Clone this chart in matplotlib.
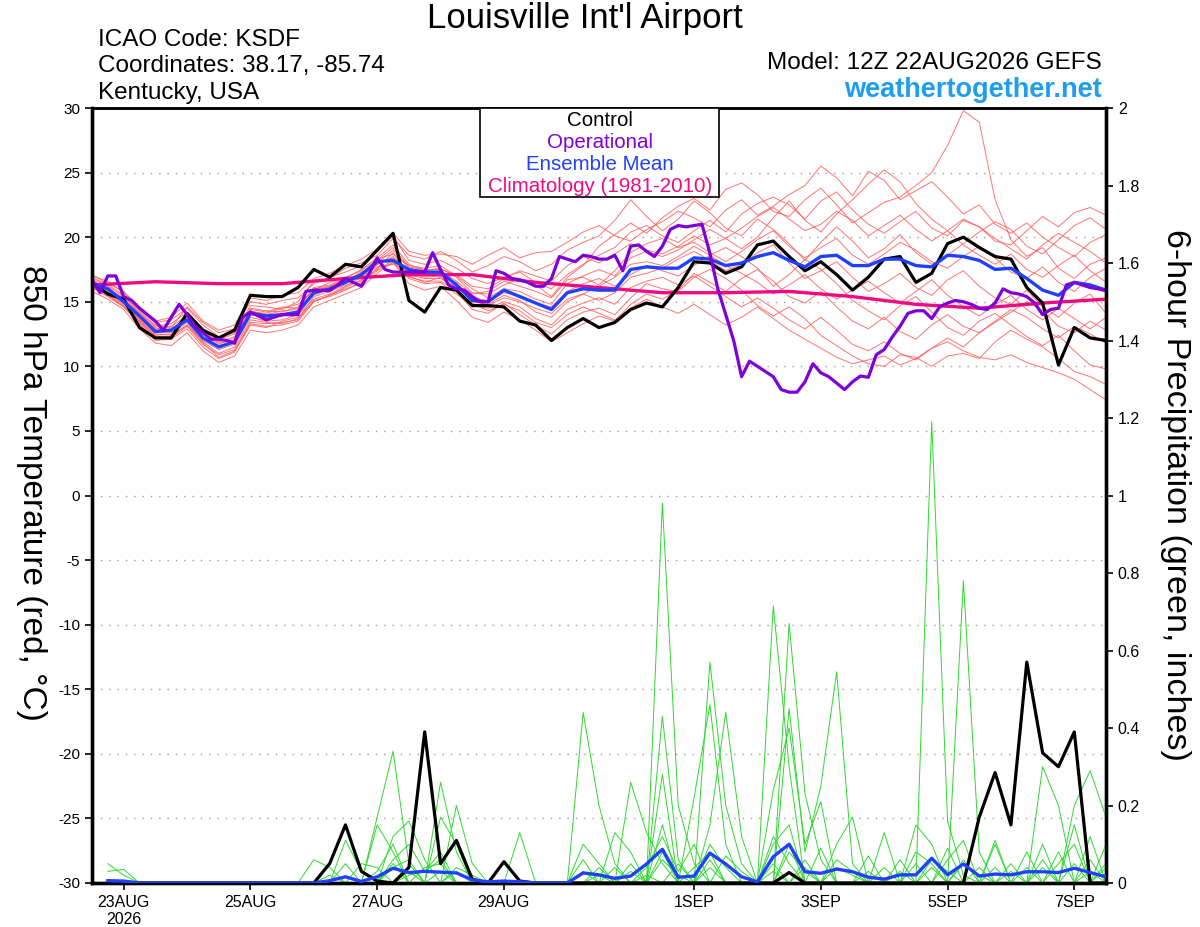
import numpy as np
import matplotlib
matplotlib.use("Agg")
import matplotlib.pyplot as plt
from matplotlib.patches import Rectangle

plt.rcParams["font.family"] = ["Liberation Sans", "DejaVu Sans"]
plt.rcParams["axes.unicode_minus"] = False

# ---- data ----
# 850 hPa temperature, 6-hourly from 22AUG 12Z
control_temp = [16.5, 15.6, 15.2, 13.0, 12.2, 12.2, 14.1, 12.8, 12.2, 12.8,
                15.5, 15.4, 15.4, 16.1, 17.5, 16.9, 17.9, 17.7, 19.0, 20.3,
                15.1, 14.2, 16.1, 15.9, 14.7, 14.7, 14.6, 13.5, 13.2, 12.0,
                13.0, 13.7, 13.0, 13.4, 14.4, 14.9, 14.6, 16.1, 18.1, 18.0,
                17.2, 17.7, 19.4, 19.7, 18.5, 17.4, 18.1, 17.1, 15.9, 16.9,
                18.3, 18.5, 16.5, 17.2, 19.5, 20.0, 19.2, 18.5, 18.3, 16.1,
                14.9, 10.1, 13.0, 12.2, 12.0]
mean_temp = [16.4, 16.0, 15.0, 13.9, 12.7, 12.8, 13.6, 12.2, 11.5, 11.9,
             14.1, 13.9, 14.0, 14.2, 15.7, 16.0, 16.5, 17.1, 18.1, 18.2,
             17.5, 17.3, 17.3, 16.3, 15.1, 15.0, 15.9, 15.4, 14.9, 14.4,
             15.7, 16.0, 15.9, 15.9, 17.5, 17.7, 17.6, 17.6, 18.4, 18.3,
             17.8, 18.0, 18.5, 18.8, 18.2, 17.7, 18.5, 18.6, 17.8, 17.8,
             18.3, 18.3, 17.8, 17.7, 18.6, 18.5, 18.2, 17.5, 17.6, 16.8,
             15.9, 15.5, 16.5, 16.3, 15.9]
# operational run, 3-hourly
oper_temp = [16.7, 15.7, 17.0, 17.0, 15.4, 15.1, 14.5, 14.0, 13.5, 12.8,
             13.8, 14.8, 14.0, 13.1, 12.6, 12.1, 12.1, 12.0, 11.8, 13.8,
             14.2, 13.9, 13.6, 13.8, 14.0, 14.0, 14.0, 15.8, 15.9, 15.9,
             15.85, 16.3, 16.8, 16.5, 16.2, 17.2, 18.4, 17.5, 17.3, 17.3,
             17.3, 17.3, 17.3, 18.8, 17.5, 16.3, 16.0, 15.9, 15.4, 15.0,
             15.0, 17.4, 17.2, 16.8, 16.7, 16.5, 16.2, 16.2, 16.8, 18.5,
             18.3, 18.1, 18.6, 18.5, 18.3, 18.3, 18.6, 17.4, 19.3, 19.4,
             18.9, 18.5, 19.3, 20.6, 20.9, 20.8, 20.9, 21.0, 18.75, 16.0,
             14.0, 12.0, 9.2, 10.4, 10.0, 9.6, 9.2, 8.2, 8.0, 8.0,
             8.8, 10.2, 9.5, 9.2, 8.7, 8.2, 8.8, 9.25, 9.15, 10.9,
             11.3, 12.25, 13.1, 14.1, 14.3, 14.3, 13.7, 14.6, 14.9, 15.1,
             15.0, 14.8, 14.5, 14.4, 14.9, 16.0, 15.7, 15.6, 15.4, 14.9,
             14.0, 14.4, 14.5, 16.3, 16.5, 16.3, 16.1, 16.0, 15.85]
# climatology, daily at 12Z
clim_temp = [16.3, 16.55, 16.4, 16.4, 16.8, 17.1, 17.1, 16.5, 16.1, 15.7,
             15.7, 15.8, 15.4, 14.8, 14.5, 14.9, 15.2]

# ensemble members (6-hourly)
ens_temp = [
    [16.8, 16.2, 15.4, 14.3, 13.2, 13.0, 14.6, 13.4, 12.6, 12.9, 15.0, 14.8, 15.1, 15.3, 16.4, 16.9, 17.3, 17.8, 18.9, 20.1, 18.2, 17.9,
     18.2, 17.6, 16.8, 16.4, 16.9, 17.3, 16.5, 16.0, 17.1, 17.9, 18.6, 19.2, 20.4, 20.9, 20.1, 19.6,
     20.5, 21.3, 20.4, 21.8, 22.6, 23.1, 22.5, 21.4, 22.8, 23.5, 22.1, 21.0, 20.3, 21.2, 22.0, 20.7, 20.1, 21.3, 20.8, 19.7, 19.4, 20.5, 21.6, 20.8, 21.9, 22.3, 21.7],
    [16.2, 15.5, 14.6, 13.3, 12.0, 12.1, 12.9, 11.5, 10.6, 11.1, 13.2, 13.0, 13.5, 13.8, 15.0, 15.5, 16.0, 16.4, 17.6, 18.8, 17.0, 16.5,
     16.9, 15.8, 14.4, 14.1, 14.9, 14.0, 13.2, 12.5, 13.6, 14.2, 14.5, 14.0, 15.3, 16.4, 16.0, 15.8,
     16.9, 17.5, 16.8, 15.9, 14.7, 13.9, 14.6, 13.7, 12.4, 11.6, 10.8, 10.2, 10.0, 10.9, 10.7, 10.0, 10.8, 11.0, 10.6, 11.9, 12.8, 12.1, 11.5, 10.6, 9.6, 9.2, 8.6],
    [16.5, 16.1, 15.2, 14.0, 12.9, 13.1, 13.9, 12.5, 11.9, 12.3, 14.4, 14.2, 14.6, 14.5, 16.1, 16.3, 16.8, 17.5, 18.4, 19.4, 17.9, 17.4,
     17.6, 16.9, 15.7, 15.6, 16.3, 16.8, 16.3, 15.4, 16.9, 17.8, 19.3, 20.2, 21.1, 20.3, 21.5, 22.4,
     23.0, 22.1, 23.7, 24.2, 23.3, 22.0, 21.6, 22.9, 23.8, 22.5, 21.1, 21.9, 22.7, 23.1, 24.0, 25.0, 27.1, 29.8, 28.9, 22.9, 19.8, 18.5, 19.2, 17.6, 16.8, 17.9, 18.4],
    [16.0, 15.8, 14.9, 13.6, 12.5, 12.4, 13.2, 12.0, 11.3, 11.7, 13.8, 13.5, 13.6, 14.0, 15.2, 15.6, 16.2, 16.9, 17.7, 17.9, 17.4, 17.0,
     17.1, 16.5, 15.2, 14.7, 15.3, 15.0, 14.5, 14.1, 15.2, 15.6, 15.1, 15.7, 16.9, 17.2, 17.6, 18.3,
     18.9, 18.2, 17.4, 17.9, 18.8, 19.4, 18.0, 16.8, 17.4, 18.1, 16.9, 15.8, 16.4, 17.2, 16.1, 15.5, 16.7, 17.4, 16.2, 15.3, 14.8, 15.9, 14.6, 13.8, 14.9, 15.6, 14.1],
    [17.0, 16.6, 15.7, 14.5, 13.4, 13.6, 14.5, 13.2, 12.3, 12.6, 14.7, 14.6, 14.4, 15.0, 16.6, 16.8, 17.6, 18.0, 18.6, 19.9, 18.6, 18.3,
     18.9, 18.2, 17.3, 17.8, 18.5, 18.1, 17.4, 17.9, 19.0, 19.6, 20.1, 21.3, 22.9, 21.6, 20.5, 21.4,
     22.8, 21.9, 20.7, 20.1, 21.4, 20.6, 19.5, 18.2, 19.6, 20.8, 19.7, 18.4, 19.1, 20.2, 18.8, 17.9, 18.6, 19.5, 20.4, 21.2, 20.6, 19.3, 18.7, 19.8, 20.9, 21.5, 20.6],
    [15.8, 15.2, 14.4, 12.9, 11.8, 11.6, 12.6, 11.2, 10.3, 10.8, 12.8, 12.6, 12.8, 13.2, 14.6, 15.1, 15.6, 16.1, 17.2, 18.1, 16.4, 15.9,
     16.2, 15.1, 13.8, 13.4, 14.2, 13.6, 12.8, 11.9, 12.6, 13.3, 13.9, 13.5, 14.8, 15.6, 15.2, 15.9,
     17.2, 16.5, 15.8, 16.8, 17.5, 16.6, 15.4, 14.9, 15.8, 14.6, 13.5, 12.9, 13.8, 12.7, 12.1, 13.2, 14.0, 13.1, 12.6, 13.5, 14.4, 13.8, 12.9, 12.2, 13.1, 12.5, 11.8],
    [16.6, 15.9, 15.1, 14.2, 13.0, 12.7, 14.0, 12.8, 11.8, 12.0, 14.2, 14.1, 14.5, 14.8, 15.9, 16.5, 16.9, 17.4, 18.3, 18.7, 17.8, 17.6,
     17.8, 17.0, 16.0, 15.3, 16.0, 15.8, 15.2, 14.8, 16.4, 17.0, 17.5, 17.0, 18.4, 18.9, 18.5, 19.0,
     19.8, 20.6, 19.9, 19.1, 20.0, 21.5, 22.8, 21.3, 20.4, 21.8, 22.9, 24.1, 25.2, 24.3, 22.6, 21.4, 20.5, 19.4, 18.6, 17.9, 18.7, 17.5, 16.9, 17.8, 18.6, 17.4, 16.5],
    [16.3, 15.6, 14.8, 13.5, 12.4, 12.5, 13.4, 11.9, 11.0, 11.5, 13.6, 13.4, 13.3, 13.7, 15.4, 15.8, 16.3, 16.6, 17.9, 18.4, 17.1, 16.8,
     16.8, 16.2, 15.4, 15.0, 15.7, 15.5, 14.9, 14.6, 15.8, 16.4, 16.8, 16.2, 17.1, 17.8, 17.4, 17.0,
     17.8, 18.6, 19.2, 18.5, 17.6, 16.2, 17.1, 18.3, 17.5, 16.4, 15.1, 14.3, 13.6, 14.7, 15.4, 14.2, 13.0, 12.4, 13.5, 14.1, 13.2, 12.3, 11.6, 12.4, 11.2, 10.1, 9.8],
    [16.9, 16.3, 15.5, 14.1, 13.1, 13.3, 14.2, 12.9, 12.1, 12.5, 14.5, 14.3, 14.2, 14.6, 16.0, 16.2, 16.6, 17.3, 18.0, 19.0, 17.6, 17.2,
     17.4, 16.6, 15.6, 15.8, 16.6, 16.2, 15.8, 15.3, 16.7, 16.9, 16.3, 17.4, 18.8, 19.5, 19.9, 19.2,
     19.6, 18.8, 18.1, 18.9, 19.8, 20.5, 19.3, 18.4, 19.2, 19.9, 18.6, 17.9, 18.7, 19.6, 19.0, 18.1, 17.6, 18.5, 19.3, 18.4, 17.3, 16.8, 17.7, 16.5, 15.8, 16.9, 17.6],
    [16.1, 15.4, 14.6, 13.4, 12.2, 12.2, 13.1, 11.7, 10.9, 11.3, 13.4, 13.3, 13.4, 13.6, 15.1, 15.4, 15.9, 16.5, 17.4, 18.0, 16.8, 16.4,
     16.5, 15.6, 14.7, 14.5, 15.0, 14.6, 13.7, 13.2, 14.4, 14.9, 15.3, 14.8, 16.1, 16.6, 16.9, 16.3,
     17.0, 16.2, 15.4, 14.6, 15.3, 14.5, 13.6, 12.9, 13.8, 12.8, 11.7, 11.2, 11.9, 11.0, 10.5, 11.4, 12.2, 11.5, 12.6, 13.4, 14.2, 15.0, 14.3, 13.1, 12.6, 13.5, 12.8],
    [17.1, 16.4, 15.8, 14.6, 13.5, 13.8, 14.9, 13.5, 12.8, 13.2, 15.3, 15.1, 15.5, 15.7, 16.8, 17.2, 17.8, 18.3, 19.1, 20.3, 18.9, 18.6,
     18.7, 18.5, 17.9, 18.6, 19.2, 18.4, 18.8, 18.9, 19.6, 20.4, 20.9, 20.1, 19.7, 20.6, 21.2, 22.0,
     21.5, 20.8, 22.1, 22.9, 21.7, 22.4, 23.3, 24.0, 25.5, 24.6, 23.2, 25.1, 24.4, 22.9, 23.6, 24.3, 23.1, 21.8, 22.5, 21.0, 20.3, 21.1, 20.0, 19.2, 18.5, 19.6, 20.2],
    [16.4, 15.7, 14.9, 13.7, 12.6, 12.6, 13.5, 12.3, 11.6, 11.9, 14.0, 13.8, 13.9, 14.2, 15.5, 16.0, 16.5, 17.0, 17.9, 18.5, 17.3, 16.9,
     17.0, 16.4, 15.0, 14.8, 15.5, 15.1, 14.2, 13.8, 15.0, 15.6, 16.2, 16.9, 17.9, 18.1, 17.8, 18.5,
     19.3, 18.6, 17.8, 17.2, 16.5, 15.6, 16.3, 17.1, 16.0, 15.2, 15.9, 16.6, 15.7, 14.9, 15.8, 16.7, 15.5, 14.6, 13.9, 14.8, 15.5, 14.4, 13.6, 14.5, 13.7, 12.9, 13.8],
    [16.2, 15.5, 14.7, 13.5, 12.3, 12.3, 13.2, 11.8, 10.7, 11.2, 13.3, 13.1, 13.2, 13.5, 15.0, 15.5, 16.1, 16.7, 17.5, 18.2, 16.9, 16.6,
     16.6, 15.9, 14.9, 14.3, 14.8, 14.3, 13.4, 13.0, 14.0, 14.6, 14.1, 13.6, 14.5, 15.2, 14.6, 14.1,
     14.8, 14.0, 13.2, 13.8, 14.6, 13.7, 12.8, 12.1, 11.4, 10.7, 10.2, 10.5, 10.8, 10.1, 10.6, 11.4, 11.9, 11.2, 10.7, 10.5, 10.9, 10.3, 9.9, 9.5, 9.0, 8.2, 7.4],
    [16.7, 16.0, 15.3, 14.0, 12.8, 12.9, 13.8, 12.6, 11.7, 12.2, 14.3, 14.0, 14.3, 14.4, 15.8, 16.2, 16.7, 17.2, 18.2, 19.2, 17.7, 17.5,
     17.5, 17.1, 16.2, 16.0, 16.8, 17.4, 17.0, 16.6, 17.8, 18.5, 18.0, 18.7, 19.5, 19.0, 18.7, 19.3,
     20.1, 19.4, 19.9, 20.7, 21.6, 22.3, 21.4, 20.5, 21.0, 22.0, 21.3, 20.1, 20.9, 21.7, 20.6, 19.7, 20.5, 21.4, 20.8, 19.9, 19.1, 18.3, 19.4, 20.3, 19.6, 18.9, 18.0],
]

# 6-hour precipitation (inches), first value valid 22AUG 18Z
control_prcp = [0, 0, 0, 0, 0, 0, 0, 0, 0, 0, 0, 0, 0, 0, .05, .15,
                .03, .005, 0, .04, .39, .05, .11, .01, 0, .055, .005, 0, 0, 0, 0, 0,
                0, 0, 0, 0, 0, 0, 0, 0, 0, 0, 0, .027, 0, 0, 0, 0,
                0, 0, 0, 0, 0, 0, 0, .17, .285, .15, .57, .336, .30, .39, 0, 0]
mean_prcp = [.006, .005, 0, 0, 0, 0, 0, 0, 0, 0, 0, 0, 0, 0, .006, .016,
             .004, .016, .038, .027, .03, .028, .026, .008, .003, .005, .003, 0, 0, 0, .026, .021,
             .012, .018, .049, .087, .015, .018, .077, .049, .016, .003, .068, .10, .029, .025, .036, .029,
             .015, .01, .021, .021, .064, .021, .049, .018, .023, .021, .029, .029, .027, .038, .027, .016]
ens_prcp = [
    [.05, .02, 0, 0, 0, 0, 0, 0, 0, 0, 0, 0, 0, 0, 0, 0,
     0, .17, .34, .05, 0, 0, 0, 0, 0, 0, 0, 0, 0, 0, .44, .2,
     .05, 0, 0, .98, .2, .05, 0, 0, 0, 0, .1, .15, 0, 0, 0, 0,
     0, 0, 0, 0, 1.19, .16, .02, 0, 0, 0, 0, .1, 0, 0, 0, 0],
    [.03, .035, 0, 0, 0, 0, 0, 0, 0, 0, 0, 0, 0, 0, 0, .11,
     .03, 0, 0, 0, 0, .26, .08, 0, 0, 0, 0, 0, 0, 0, 0, 0,
     0, .26, .13, .05, 0, 0, .57, .2, .05, 0, 0, .67, .23, .06, 0, 0,
     0, 0, 0, 0, 0, 0, .78, .08, 0, 0, 0, 0, 0, .2, .29, .17],
    [0, 0, 0, 0, 0, 0, 0, 0, 0, 0, 0, 0, 0, .06, .04, 0,
     0, 0, .12, .16, .06, 0, .2, .05, 0, 0, 0, 0, 0, 0, .1, .05,
     0, 0, 0, .43, .06, 0, .15, .44, .12, 0, .715, .3, 0, 0, .1, .17,
     0, 0, 0, 0, 0, 0, 0, 0, .11, 0, 0, .3, .2, 0, 0, 0],
    [0, 0, 0, 0, 0, 0, 0, 0, 0, 0, 0, 0, 0, 0, 0, 0,
     0, .15, .08, 0, 0, .17, .1, 0, 0, 0, .13, 0, 0, 0, 0, 0,
     .13, .08, 0, .28, 0, .22, .46, .1, 0, 0, 0, .45, .08, .25, .545, .05,
     0, .13, 0, .15, .1, 0, 0, 0, 0, .05, 0, 0, 0, .15, 0, 0],
    [0, 0, 0, 0, 0, 0, 0, 0, 0, 0, 0, 0, 0, 0, 0, .05,
     0, 0, .06, .1, .03, .08, 0, 0, 0, 0, 0, 0, 0, 0, 0, .02,
     0, 0, .04, .12, .03, .1, 0, 0, 0, 0, .24, .4, .1, .21, 0, 0,
     .07, 0, .06, 0, 0, .06, .11, 0, .1, 0, .08, 0, 0, 0, .06, 0],
    [0, 0, 0, 0, 0, 0, 0, 0, 0, 0, 0, 0, 0, 0, 0, 0,
     .05, .04, 0, .03, 0, 0, .04, .02, 0, 0, 0, 0, 0, 0, .03, 0,
     0, .03, 0, .08, 0, 0, .06, 0, 0, 0, .05, 0, .06, 0, .04, .02,
     0, 0, 0, .08, .05, 0, 0, .04, 0, 0, 0, 0, .05, .1, 0, .04],
    [0, 0, 0, 0, 0, 0, 0, 0, 0, 0, 0, 0, 0, 0, .02, 0,
     0, 0, .05, 0, .04, .05, 0, 0, 0, 0, 0, 0, 0, 0, 0, 0,
     0, 0, 0, .06, .02, 0, .1, .04, 0, 0, 0, .08, .03, 0, 0, 0,
     0, .04, 0, 0, .06, .03, 0, 0, 0, .03, 0, .06, 0, 0, .12, 0],
    [0, 0, 0, 0, 0, 0, 0, 0, 0, 0, 0, 0, 0, 0, 0, 0,
     0, .03, .1, 0, 0, .03, 0, 0, 0, 0, 0, 0, 0, 0, 0, .04,
     0, 0, .02, 0, 0, .04, .08, 0, 0, 0, .12, .05, 0, .09, 0, 0,
     0, 0, .03, 0, 0, 0, .05, .02, 0, 0, .04, 0, 0, .05, 0, .1],
    [0, 0, 0, 0, 0, 0, 0, 0, 0, 0, 0, 0, 0, 0, 0, 0,
     0, 0, .04, .06, 0, 0, .03, 0, 0, 0, 0, 0, 0, 0, 0, 0,
     0, .05, 0, .15, 0, 0, 0, .07, .03, 0, 0, .1, 0, 0, .06, .03,
     0, 0, 0, .05, 0, .09, 0, 0, .04, 0, 0, 0, .08, 0, .03, 0],
    [0, 0, 0, 0, 0, 0, 0, 0, 0, 0, 0, 0, 0, 0, 0, 0,
     0, 0, 0, .02, .03, .06, 0, 0, 0, 0, 0, 0, 0, 0, .06, 0,
     .04, 0, 0, 0, .05, 0, .04, 0, 0, 0, .03, 0, .04, 0, 0, 0,
     .03, 0, 0, 0, .04, 0, .06, 0, 0, 0, 0, .04, 0, 0, 0, .05],
]

date_ticks = [0, 2, 4, 6, 9, 11, 13, 15]   # days after 23AUG 00Z
date_labels = ["23AUG\n2026", "25AUG", "27AUG", "29AUG", "1SEP", "3SEP", "5SEP", "7SEP"]

# time axes in days after 23AUG 00Z
t_temp = np.arange(len(control_temp)) * 0.25 - 0.5
t_oper = np.arange(len(oper_temp)) * 0.125 - 0.5
t_clim = np.arange(len(clim_temp)) * 1.0 - 0.5
t_prcp = np.arange(len(control_prcp)) * 0.25 - 0.25

# ---- plot ----
fig = plt.figure(figsize=(12, 9.27), dpi=100)
ax = fig.add_axes([92/1200, 1 - 883/927, 1014/1200, 775/927])
ax2 = ax.twinx()

for m in ens_temp:
    ax.plot(t_temp, m, color="#ff5a5a", lw=0.7, alpha=0.85, zorder=2)
ax.plot(t_clim, clim_temp, color="#ee0a80", lw=2.4, zorder=3)
ax.plot(t_temp, control_temp, color="black", lw=2.3, zorder=4)
ax.plot(t_temp, mean_temp, color="#2040ff", lw=2.4, zorder=5)
ax.plot(t_oper, oper_temp, color="#8000d8", lw=2.3, zorder=6)

for m in ens_prcp:
    ax2.plot(t_prcp, m, color="#2ed82e", lw=0.7, zorder=2)
ax2.plot(t_prcp, control_prcp, color="black", lw=2.3, zorder=4)
ax2.plot(t_prcp, mean_prcp, color="#2040ff", lw=2.4, zorder=5)

ax.set_xlim(-0.5, 15.5)
ax.set_ylim(-30, 30)
ax2.set_ylim(0, 2)

ax.set_yticks(np.arange(-30, 31, 5))
ax.yaxis.grid(True, linestyle=(0, (1, 5)), color="#999999", lw=1.0)
ax.set_axisbelow(True)
ax2.set_yticks(np.arange(0, 2.01, 0.2))
ax2.set_yticklabels([f"{v:g}" for v in np.arange(0, 2.01, 0.2).round(1)])
ax.set_xticks(date_ticks)
ax.set_xticklabels(date_labels)

ax.tick_params(axis="x", direction="out", length=5, width=1.2, labelsize=11.5)
ax.tick_params(axis="y", direction="out", length=5, width=1.2, labelsize=11)
ax2.tick_params(axis="y", direction="out", length=5, width=1.2, labelsize=11.5)

for a in (ax, ax2):
    for side in ("left", "right", "bottom"):
        a.spines[side].set_linewidth(2.4)
    a.spines["top"].set_linewidth(1.8)

# axis titles (both read top to bottom)
fig.text(31/1200, 1 - 493/927, "850 hPa Temperature (red, °C)", rotation=-90,
         ha="center", va="center", fontsize=24)
fig.text(1175/1200, 1 - 495/927, "6-hour Precipitation (green, inches)", rotation=-90,
         ha="center", va="center", fontsize=24.5)

# header text
fig.text(0.4875, 0.980, "Louisville Int'l Airport", ha="center", va="center", fontsize=25)
fig.text(0.0817, 0.957, "ICAO Code: KSDF", ha="left", va="center", fontsize=17.5)
fig.text(0.0817, 0.929, "Coordinates: 38.17, -85.74", ha="left", va="center", fontsize=17.5)
fig.text(0.0817, 0.900, "Kentucky, USA", ha="left", va="center", fontsize=17.5)
fig.text(0.918, 0.932, "Model: 12Z 22AUG2026 GEFS", ha="right", va="center", fontsize=17.5)
fig.text(0.918, 0.903, "weathertogether.net", ha="right", va="center", fontsize=19.5,
         fontweight="bold", color="#1e9ef2")

# legend box
fig.add_artist(Rectangle((480/1200, 1 - 197/927), 239/1200, 89/927, transform=fig.transFigure,
                         facecolor="white", edgecolor="black", lw=1.2, zorder=5))
legend_items = [("Control", "black"), ("Operational", "#8000d8"),
                ("Ensemble Mean", "#2040ff"), ("Climatology (1981-2010)", "#ee0a80")]
for (txt, col), ypx in zip(legend_items, [121, 142, 164, 186]):
    fig.text(600/1200, 1 - ypx/927, txt, color=col, ha="center", va="center", fontsize=14.8, zorder=6)

fig.savefig("out.png", dpi=100)
